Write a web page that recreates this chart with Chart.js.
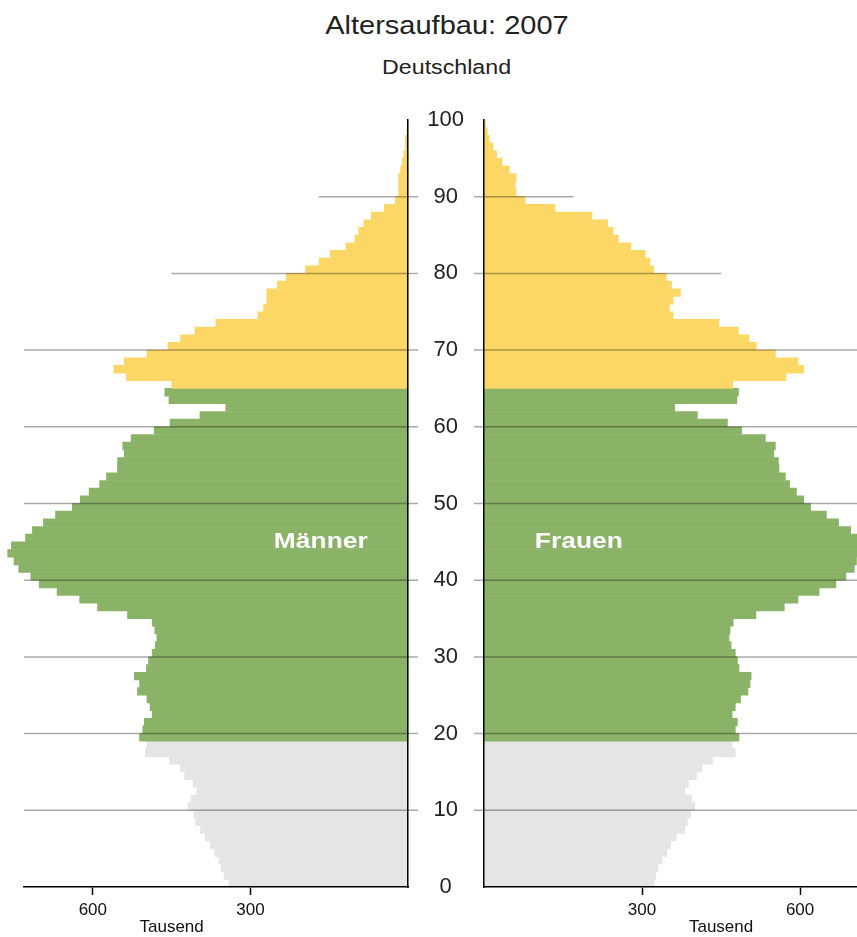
<!DOCTYPE html>
<html>
<head>
<meta charset="utf-8">
<title>Altersaufbau: 2007</title>
<script src="https://cdn.jsdelivr.net/npm/chart.js@4.4.0/dist/chart.umd.min.js"></script>
<style>
  body { margin: 0; background: #fff; font-family: "Liberation Sans", Arial, sans-serif; }
  #wrap { position: relative; width: 857px; height: 937px; overflow: hidden; }
  .head { position: absolute; left: 0; width: 893px; text-align: center; color: #222; }
  .head span { display: inline-block; transform: scaleX(1.16); }
  #title { top: 10px; font-size: 25px; line-height: 30px; }
  #sub { top: 55px; font-size: 20px; line-height: 24px; }
  canvas { position: absolute; top: 0; }
  #men { left: 0; }
  #women { left: 416px; }
</style>
</head>
<body>
<div id="wrap">
  <div class="head" id="title"><span>Altersaufbau: 2007</span></div>
  <div class="head" id="sub"><span>Deutschland</span></div>
  <canvas id="men" width="420" height="937"></canvas>
  <canvas id="women" width="441" height="937"></canvas>
</div>
<script>
// Altersjahre 0..99, Werte in Tausend
const ages = Array.from({ length: 100 }, (_, i) => i);

const maenner = [
  341, 350, 356, 360, 368, 376, 386, 395, 405, 408,
  419, 413, 402, 409, 425, 433, 454, 500, 497, 511,
  505, 502, 487, 491, 497, 515, 511, 521, 498, 494,
  487, 481, 478, 482, 487, 534, 591, 625, 668, 702,
  718, 741, 750, 762, 755, 728, 715, 694, 671, 639,
  624, 607, 587, 574, 553, 553, 540, 543, 527, 483,
  453, 396, 347, 455, 463, 450, 536, 560, 540, 497,
  457, 433, 406, 366, 286, 275, 269, 269, 249, 232,
  195, 169, 148, 118, 101, 94, 84, 70, 45, 24,
  18, 18, 18, 14, 11, 8, 5, 5, 2, 1
];

const frauen = [
  323, 326, 330, 338, 347, 354, 365, 381, 386, 392,
  400, 394, 381, 388, 403, 414, 434, 477, 471, 484,
  477, 481, 471, 477, 487, 501, 505, 507, 484, 481,
  477, 469, 465, 467, 473, 516, 570, 596, 636, 668,
  687, 703, 707, 718, 720, 714, 696, 673, 650, 620,
  607, 593, 580, 572, 560, 559, 550, 553, 534, 489,
  462, 405, 362, 480, 483, 472, 573, 607, 596, 553,
  517, 503, 483, 446, 359, 352, 359, 373, 356, 346,
  322, 315, 306, 279, 255, 245, 235, 205, 135, 78,
  61, 59, 61, 48, 34, 24, 17, 10, 6, 3
];

const ageTicks = [0, 10, 20, 30, 40, 50, 60, 70, 80, 90, 100];
const valueTicks = [300, 600];
const gridAges = [10, 20, 30, 40, 50, 60, 70, 80, 90];

// Gruppen: unter 20 / 20-64 / ab 65
const workStart = 19, retireStart = 65;
const colGrey = '#E5E5E5', colGreen = '#8BB367', colYellow = '#FDD766';
function ageColor(a) {
  if (a < workStart) return colGrey;
  if (a < retireStart) return colGreen;
  return colYellow;
}

// how far the thin lines reach into the plot (thousand), default: full width
const gridReach = { 80: 450, 90: 170 };

const decor = {
  id: 'decor',
  afterDatasetsDraw(chart, args, opts) {
    const { ctx, chartArea } = chart;
    const x = chart.scales.x, y = chart.scales.y;
    const axisPx = x.getPixelForValue(0);
    const dir = opts.side === 'left' ? 1 : -1;
    ctx.save();
    ctx.strokeStyle = 'rgba(0,0,0,0.33)';
    ctx.lineWidth = 1.5;
    gridAges.forEach(a => {
      const py = y.getPixelForValue(a);
      const end = gridReach[a] !== undefined ? x.getPixelForValue(gridReach[a])
        : (opts.side === 'left' ? chartArea.left : chartArea.right);
      ctx.beginPath();
      ctx.moveTo(axisPx + dir * 10, py);
      ctx.lineTo(end, py);
      ctx.stroke();
    });
    // Männer / Frauen
    ctx.fillStyle = '#fff';
    ctx.font = 'bold 22px "Liberation Sans", Arial, sans-serif';
    ctx.textAlign = 'center';
    ctx.textBaseline = 'middle';
    ctx.translate(x.getPixelForValue(opts.labelAt[0]), y.getPixelForValue(opts.labelAt[1]));
    ctx.scale(1.2, 1);
    ctx.fillText(opts.label, 0, 0);
    ctx.restore();
  },
  afterDraw(chart) {
    const { ctx } = chart;
    const x = chart.scales.x;
    ctx.save();
    ctx.fillStyle = '#111';
    ctx.font = '17px "Liberation Sans", Arial, sans-serif';
    ctx.textAlign = 'center';
    ctx.textBaseline = 'middle';
    ctx.fillText('Tausend', x.getPixelForValue(450), x.bottom - 10);
    ctx.restore();
  }
};

function makeChart(id, values, side, xMax, label, labelAt) {
  const left = side === 'left';
  return new Chart(document.getElementById(id), {
    type: 'bar',
    data: {
      datasets: [{
        data: ages.map((a, i) => ({ x: values[i], y: a + 0.5 })),
        backgroundColor: ages.map(ageColor),
        borderWidth: 0,
        barPercentage: 1,
        categoryPercentage: 1,
        clip: false
      }]
    },
    options: {
      indexAxis: 'y',
      responsive: false,
      animation: false,
      devicePixelRatio: 1,
      layout: { padding: { left: left ? 24 : 0, right: 0, top: 120, bottom: 0 } },
      plugins: {
        legend: { display: false },
        tooltip: { enabled: false },
        decor: { side: side, label: label, labelAt: labelAt }
      },
      scales: {
        x: {
          type: 'linear',
          reverse: left,
          min: 0,
          max: xMax,
          offset: false,
          afterBuildTicks: s => { s.ticks = valueTicks.map(v => ({ value: v })); },
          afterFit: s => { s.height = 50; },
          grid: { drawOnChartArea: false, drawTicks: true, tickLength: 8, tickColor: '#000', tickWidth: 1.5 },
          border: { color: '#000', width: 1.5, z: 1 },
          ticks: { color: '#111', font: { size: 17, family: '"Liberation Sans", Arial, sans-serif' }, padding: 5, maxRotation: 0 }
        },
        y: {
          type: 'linear',
          position: left ? 'right' : 'left',
          min: 0,
          max: 100,
          offset: false,
          afterBuildTicks: s => { s.ticks = ageTicks.map(v => ({ value: v })); },
          afterFit: s => { s.width = left ? 12 : 68; },
          grid: { drawOnChartArea: false, drawTicks: false },
          border: { color: '#000', width: 1.5, z: 1 },
          ticks: {
            display: !left,
            crossAlign: 'center',
            padding: 20,
            color: '#222',
            font: { size: 22, family: '"Liberation Sans", Arial, sans-serif' }
          }
        }
      }
    },
    plugins: [decor]
  });
}

makeChart('men', maenner, 'left', 731, 'Männer', [166, 45]);
makeChart('women', frauen, 'right', 708, 'Frauen', [180, 45]);
</script>
</body>
</html>
